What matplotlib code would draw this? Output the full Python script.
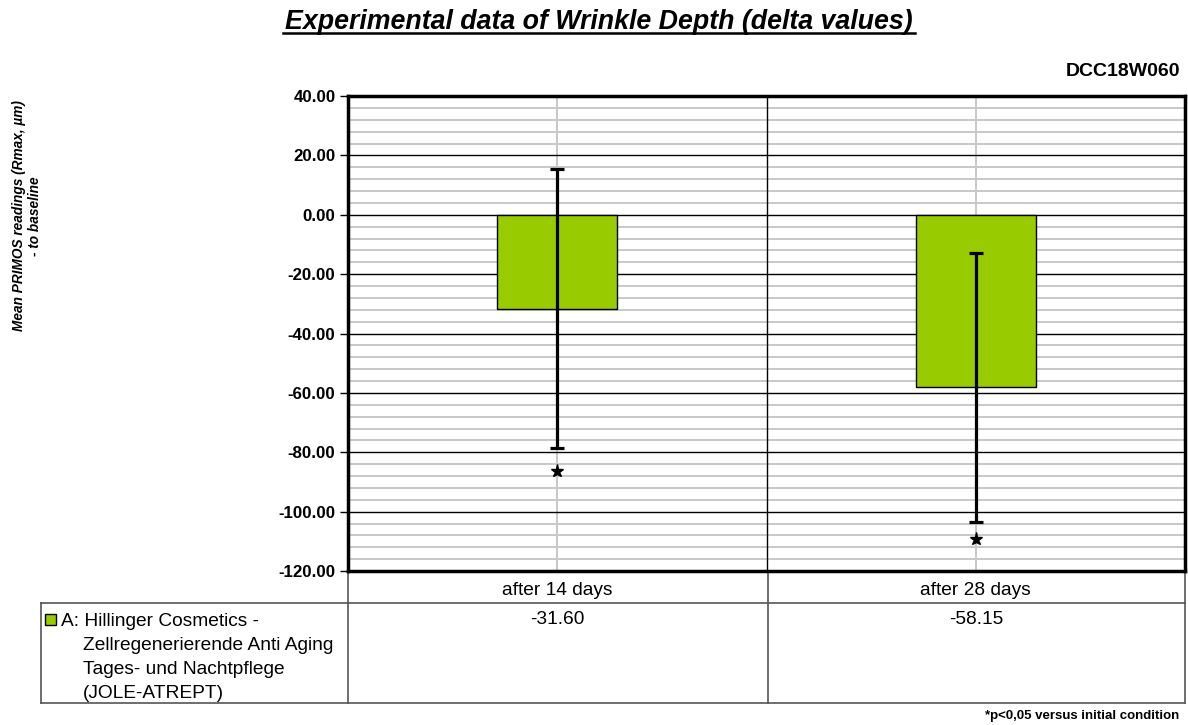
import matplotlib
matplotlib.use("Agg")
import matplotlib.pyplot as plt
import matplotlib.transforms as mtransforms
from matplotlib.ticker import MultipleLocator

plt.rcParams['font.family'] = ['Liberation Sans', 'DejaVu Sans']

categories = ["after 14 days", "after 28 days"]
values = [-31.60, -58.15]
errors = [46.9, 45.3]
star_pos = [-86.2, -109.1]
series_lines = ["A: Hillinger Cosmetics -", "Zellregenerierende Anti Aging",
                "Tages- und Nachtpflege", "(JOLE-ATREPT)"]
value_labels = ["-31.60", "-58.15"]
bar_color = "#99cc00"

W, H = 1188, 725
fig = plt.figure(figsize=(W / 100, H / 100), dpi=100)

# pixel overlay for table lines and free text
pix = fig.add_axes([0, 0, 1, 1], zorder=0)
pix.set_xlim(0, W)
pix.set_ylim(H, 0)
pix.axis("off")

ax = fig.add_axes([348 / W, 1 - 571 / H, (1185 - 348) / W, (571 - 96) / H], zorder=2)
ax.set_axisbelow(True)
x = list(range(len(categories)))

ax.set_ylim(-120, 40)
ax.set_xlim(-0.5, len(categories) - 0.5)
ax.yaxis.set_major_locator(MultipleLocator(20))
ax.yaxis.set_minor_locator(MultipleLocator(4))
ax.grid(which="minor", axis="y", color="#c8c8c8", lw=1.4)
ax.grid(which="major", axis="y", color="black", lw=1.0)
for xi in x:
    ax.axvline(xi, color="#c8c8c8", lw=1.4, zorder=0.4)
for xi in x[:-1]:
    ax.axvline(xi + 0.5, color="black", lw=1.0, zorder=1)

ax.bar(x, values, width=0.286, color=bar_color, edgecolor="black", lw=1.0, zorder=2)
ax.errorbar(x, values, yerr=errors, fmt="none", ecolor="black", elinewidth=2.3,
            capsize=5, capthick=2.3, zorder=3)
ax.plot(x, star_pos, ls="none", marker="*", ms=9.5, color="black", zorder=4)

ax.set_yticks(range(-120, 41, 20))
ax.set_yticklabels([f"{v:.2f}" for v in range(-120, 41, 20)], fontweight="bold", fontsize=12.2)
ax.tick_params(axis="y", which="major", length=6, width=1, direction="out", pad=3)
ax.tick_params(axis="y", which="minor", length=0)
ax.set_xticks(x)
ax.set_xticklabels(categories, fontsize=13.8)
ax.tick_params(axis="x", length=0, pad=8)
for s in ax.spines.values():
    s.set_linewidth(2.5)
    s.set_color("black")

# table below the chart
tcol = "#555555"
pix.plot([348, 348], [571, 703], color=tcol, lw=1.2)
pix.plot([768, 768], [571, 703], color=tcol, lw=1.2)
pix.plot([1185, 1185], [571, 703], color=tcol, lw=1.2)
pix.plot([41, 1185], [603, 603], color=tcol, lw=1.2)
pix.plot([41, 1185], [703, 703], color=tcol, lw=1.2)
pix.plot([41, 41], [603, 703], color=tcol, lw=1.2)

pix.add_patch(plt.Rectangle((45, 614), 11, 11, facecolor=bar_color, edgecolor="black", lw=1))
line_y = [621, 645, 669, 693]
for i, (ly, txt) in enumerate(zip(line_y, series_lines)):
    pix.text(61 if i == 0 else 83, ly, txt, fontsize=13.8, va="center", ha="left")

blend = mtransforms.blended_transform_factory(ax.transData, pix.transData)
for xi, lab in zip(x, value_labels):
    pix.text(xi, 620, lab, transform=blend, ha="center", va="center", fontsize=13.8)

pix.text(599, 29, "Experimental data of Wrinkle Depth (delta values)",
         ha="center", va="baseline", fontsize=19.3, fontweight="bold", fontstyle="italic")
pix.plot([283, 915], [33, 33], color="black", lw=1.8)
fig.text(1180 / W, 1 - 72 / H, "DCC18W060", ha="right", va="center", fontsize=14, fontweight="bold")
fig.text(27 / W, 1 - 216 / H, "Mean PRIMOS readings (Rmax, \u00b5m)\n- to baseline",
         rotation=90, ha="center", va="center", fontsize=9.8, fontweight="bold",
         fontstyle="italic", multialignment="center")
fig.text(1179 / W, 1 - 716 / H, "*p<0,05 versus initial condition", ha="right", va="center",
         fontsize=9.5, fontweight="bold")

fig.savefig("out.png", dpi=100)
